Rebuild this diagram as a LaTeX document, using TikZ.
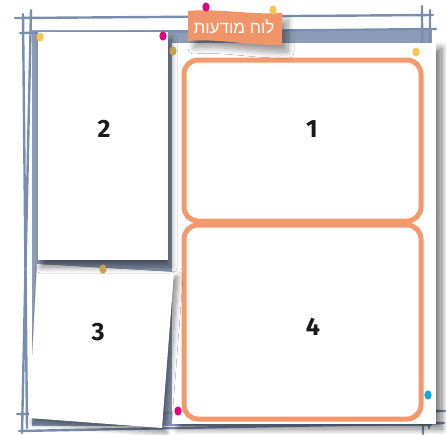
\documentclass[tikz,border=0pt]{standalone}
\usepackage{fontspec}
\setmainfont{Fira Sans}
\newfontfamily\hebfont[Script=Hebrew]{Liberation Sans}
\TeXXeTstate=1
\usetikzlibrary{shadows.blur}
\definecolor{frameblue}{HTML}{7B8DAE}
\definecolor{boardblue}{HTML}{8E9DB7}
\definecolor{boxorange}{HTML}{F29A6C}
\definecolor{banner}{HTML}{F0956A}
\definecolor{pinyellow}{HTML}{F9C74F}
\definecolor{pinmagenta}{HTML}{E5007D}
\definecolor{pingold}{HTML}{C9A04E}
\definecolor{pincyan}{HTML}{13A4E6}
\tikzset{
  frameline/.style={draw=frameblue, line width=2.4pt, line cap=round},
  paper/.style={fill=white, blur shadow={shadow xshift=4pt, shadow yshift=-5pt, shadow blur radius=5pt, shadow blur steps=10, shadow opacity=45}},
  orangebox/.style={draw=boxorange, line width=5pt, rounded corners=14pt},
  numlabel/.style={font=\fontsize{25}{25}\selectfont\bfseries, text=black!90},
  pin/.style={x radius=3.6pt, y radius=4.6pt}
}
\begin{document}
\begin{tikzpicture}[x=1pt,y=-1pt]
\useasboundingbox (0,0) rectangle (446,434);
% board
\fill[boardblue] (32,30) rectangle (432,426);
% frame lines
\draw[frameline] (15,18) -- (433,15);
\draw[frameline] (20,33) -- (436,29);
\draw[frameline] (23,14) -- (27,428);
\draw[frameline] (31,10) -- (22,433);
\draw[frameline] (422,6) -- (423,434);
\draw[frameline] (430,10) -- (429,428);
\draw[frameline] (17,414) -- (445,411);
\draw[frameline] (19,431) -- (444,423);
% big panel
\fill[fill=white, blur shadow={shadow xshift=6pt, shadow yshift=-5pt, shadow blur radius=6pt, shadow blur steps=12, shadow opacity=50}] (172,43) rectangle (436,424);
\draw[orangebox] (184,60) rectangle (421,221);
\draw[orangebox] (184,225) rectangle (421,419);
% panel 3 (tilted)
\fill[paper] (37,264) -- (174,272) -- (162,428) -- (29,418) -- cycle;
% panel 2
\fill[fill=white, blur shadow={shadow xshift=3pt, shadow yshift=-7pt, shadow blur radius=6pt, shadow blur steps=10, shadow opacity=50}] (38,32) rectangle (168,260);
% banner
\fill[banner, blur shadow={shadow xshift=6pt, shadow yshift=-7pt, shadow blur radius=6pt, shadow blur steps=10, shadow opacity=40}]
  (188,11) .. controls (215,8) and (250,15) .. (282,13) -- (282,45)
  .. controls (250,46) and (215,38) .. (188,41) -- cycle;
\node[text=white, font=\hebfont\fontsize{17}{17}\selectfont] (title) at (234,27) {\beginR לוח מודעות\endR};
% numbers
\node[numlabel] (n2) at (104,129) {2};
\node[numlabel] (n1) at (312,129) {1};
\node[numlabel] (n3) at (98,332) {3};
\node[numlabel] (n4) at (313,327) {4};
% pins
\fill[pinyellow] (40,37) ellipse [pin];
\fill[pinmagenta] (163,36) ellipse [pin];
\fill[pingold] (173,51) ellipse [pin];
\fill[pinmagenta] (206,7) ellipse [pin];
\fill[pinyellow] (273,10) ellipse [pin];
\fill[pinyellow] (416,52) ellipse [pin];
\fill[pingold] (103,269) ellipse [pin];
\fill[pinmagenta] (178,411) ellipse [pin];
\fill[pincyan] (428,395) ellipse [pin];
\end{tikzpicture}
\end{document}
